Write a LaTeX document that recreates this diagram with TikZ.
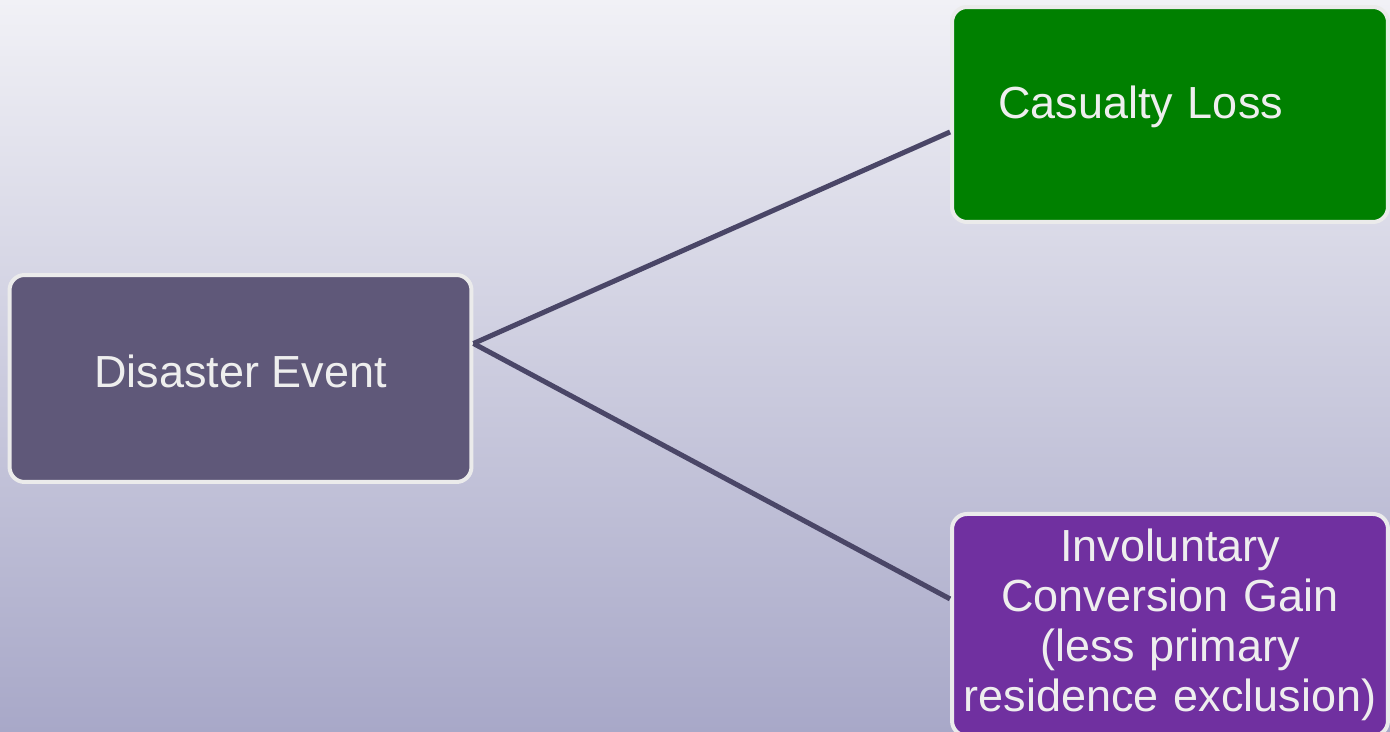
\documentclass[tikz,border=0pt]{standalone}
\usepackage{fontspec}
\setmainfont{Liberation Sans}
\usetikzlibrary{positioning, calc}
\definecolor{bgtop}{RGB}{241, 241, 246}
\definecolor{bgbottom}{RGB}{168, 168, 200}
\definecolor{eventgrey}{RGB}{95, 88, 121}
\definecolor{lossgreen}{RGB}{0, 128, 0}
\definecolor{gainpurple}{RGB}{112, 48, 160}
\definecolor{borderwhite}{RGB}{235, 235, 235}
\definecolor{linkgrey}{RGB}{74, 70, 103}
\definecolor{textwhite}{RGB}{238, 238, 238}

\begin{document}
\begin{tikzpicture}[x=0.02cm, y=-0.02cm,
    box/.style={rectangle, rounded corners=0.3cm, draw=borderwhite, line width=0.08cm, text=textwhite, font=\fontsize{25.6}{28.45}\selectfont},
    link/.style={linkgrey, line width=0.1cm}]
    % Background
    \shade[top color=bgtop, bottom color=bgbottom] (0,0) rectangle (1390,732);
    \useasboundingbox (0,0) rectangle (1390,732);
    
    % Disaster event
    \node[box, fill=eventgrey, minimum width=9.24cm, minimum height=4.14cm, text depth=8pt] (disaster) at (240.5,378.5) {Disaster Event};
    
    % Casualty loss
    \node[box, fill=lossgreen, minimum width=8.72cm, minimum height=4.3cm, text width=6.88cm, align=left, inner xsep=0.92cm, text depth=14pt] (loss) at (1170,114.5) {Casualty Loss};
    
    % Involuntary conversion gain
    \node[box, fill=gainpurple, text width=8.52cm, align=center, inner xsep=0.1cm, inner ysep=0.3cm, anchor=north] (gain) at (1170,512) {Involuntary\\Conversion Gain\\(less primary\\residence exclusion)};
    
    % Links
    \draw[link] ([yshift=0.7cm]disaster.east) -- ([yshift=-0.35cm]loss.west);
    \draw[link] ([yshift=0.7cm]disaster.east) -- ([yshift=0.52cm]gain.west);
\end{tikzpicture}
\end{document}
